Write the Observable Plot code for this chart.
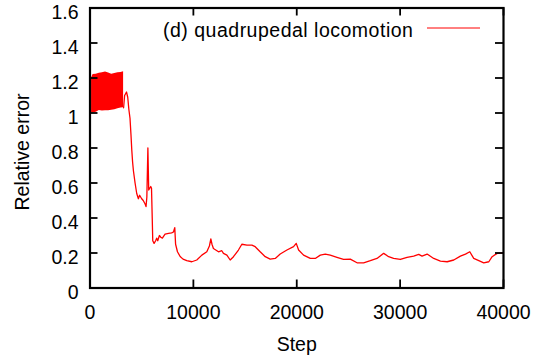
<!DOCTYPE html>
<html>
<head>
<meta charset="utf-8">
<script src="https://cdn.jsdelivr.net/npm/d3@7"></script>
<script src="https://cdn.jsdelivr.net/npm/@observablehq/plot@0.6"></script>
<style>
  html, body { margin: 0; padding: 0; background: #fff; }
  #wrap { position: relative; width: 543px; height: 361px; font-family: "Liberation Sans", Arial, Helvetica, sans-serif; }
  #legend { position: absolute; left: 163px; top: 17px; font-size: 19.5px; letter-spacing: 0.5px; line-height: 26px; white-space: nowrap; color: #000; display: flex; align-items: center; }
  #legend svg { margin-left: 14px; }
  #ytitle { position: absolute; left: 22px; top: 152px; font-size: 19.5px; line-height: 24px; white-space: nowrap; color: #000; transform: translate(-50%, -50%) rotate(-90deg); }
</style>
</head>
<body>
<div id="wrap">
  <div id="chart"></div>
  <div id="legend"><span>(d) quadrupedal locomotion</span><svg width="53" height="10"><line x1="0" y1="3" x2="53" y2="3" stroke="#ff0000" stroke-width="1"/></svg></div>
  <div id="ytitle">Relative error</div>
</div>
<script>
// Oscillating band at the start (envelope)
const bandStep = [150, 300, 600, 900, 1200, 1500, 1800, 2100, 2400, 2700, 3000, 3250];
const bandLow  = [1.00, 1.00, 1.005, 1.015, 1.012, 1.013, 1.013, 1.016, 1.018, 1.025, 1.028, 1.030];
const bandHigh = [1.20, 1.22, 1.222, 1.227, 1.230, 1.235, 1.228, 1.222, 1.226, 1.230, 1.232, 1.236];

// Relative error curve after the band
const steps = [3250, 3350, 3530, 3650, 3760, 3870, 3960, 4040, 4120, 4200, 4360, 4520, 4680, 4800, 4900, 5000, 5150, 5330, 5420, 5500, 5600, 5680, 5780, 5875, 5950, 6020, 6070, 6200, 6350, 6450, 6550, 6715, 6850, 7000, 7260, 7600, 7900, 8070, 8200, 8280, 8460, 8720, 9000, 9360, 9850, 10330, 10820, 11300, 11550, 11690, 11800, 11940, 12430, 12750, 12910, 13240, 13560, 13880, 14360, 14690, 15180, 15660, 15980, 16460, 16950, 17430, 17920, 18400, 19050, 19690, 19950, 20180, 20660, 21310, 21790, 22280, 22760, 23240, 23890, 24530, 25180, 25830, 26470, 27120, 27760, 28410, 28890, 29370, 30020, 30670, 31310, 31800, 32120, 32610, 33250, 33900, 34550, 35190, 35830, 36320, 36740, 37120, 37610, 38090, 38580, 38900, 39390, 40000];
const errors = [1.03, 1.10, 1.12, 1.09, 1.02, 0.97, 0.88, 0.79, 0.72, 0.67, 0.60, 0.54, 0.51, 0.53, 0.52, 0.51, 0.50, 0.48, 0.465, 0.52, 0.80, 0.56, 0.57, 0.58, 0.57, 0.40, 0.27, 0.255, 0.27, 0.285, 0.27, 0.30, 0.29, 0.285, 0.308, 0.312, 0.315, 0.32, 0.345, 0.25, 0.207, 0.18, 0.165, 0.156, 0.150, 0.160, 0.188, 0.207, 0.24, 0.28, 0.25, 0.226, 0.207, 0.213, 0.198, 0.188, 0.160, 0.179, 0.217, 0.25, 0.245, 0.245, 0.236, 0.207, 0.179, 0.165, 0.169, 0.194, 0.217, 0.236, 0.255, 0.217, 0.188, 0.169, 0.169, 0.188, 0.194, 0.188, 0.175, 0.163, 0.165, 0.144, 0.144, 0.156, 0.169, 0.198, 0.179, 0.169, 0.163, 0.175, 0.182, 0.192, 0.182, 0.194, 0.169, 0.154, 0.150, 0.160, 0.182, 0.194, 0.207, 0.169, 0.156, 0.144, 0.150, 0.179, 0.198, 0.201];

const xTicks = [0, 10000, 20000, 30000, 40000];
const yTicks = [0, 0.2, 0.4, 0.6, 0.8, 1, 1.2, 1.4, 1.6];

const band = bandStep.map((s, i) => ({step: s, lo: bandLow[i], hi: bandHigh[i]}));
const curve = steps.map((s, i) => ({step: s, err: errors[i]}));

const W = 543, H = 361;
const mL = 89.5, mR = 40, mT = 7.5, mB = 73.5;
const pW = W - mL - mR, pH = H - mT - mB;
const tick = 8;
const fs = 19.5;

const chart = Plot.plot({
  width: W, height: H,
  marginLeft: mL, marginRight: mR, marginTop: mT, marginBottom: mB,
  style: {fontFamily: '"Liberation Sans", Arial, Helvetica, sans-serif', fontSize: fs + "px", background: "#fff", color: "#000", overflow: "visible"},
  x: {domain: [0, 40000], axis: null},
  y: {domain: [0, 1.6], axis: null},
  marks: [
    Plot.areaY(band, {x: "step", y1: "lo", y2: "hi", fill: "#ff0000", curve: "linear"}),
    Plot.line(curve, {x: "step", y: "err", stroke: "#ff0000", strokeWidth: 1.3}),
    // inward ticks
    Plot.tickX(xTicks, {x: d => d, insetTop: pH - tick, stroke: "#000", strokeWidth: 1.8}),
    Plot.tickX(xTicks, {x: d => d, insetBottom: pH - tick, stroke: "#000", strokeWidth: 1.8}),
    Plot.tickY(yTicks, {y: d => d, insetRight: pW - tick, stroke: "#000", strokeWidth: 1.8}),
    Plot.tickY(yTicks, {y: d => d, insetLeft: pW - tick, stroke: "#000", strokeWidth: 1.8}),
    Plot.frame({stroke: "#000", strokeWidth: 2.2}),
    // tick labels
    Plot.text(xTicks, {x: d => d, frameAnchor: "bottom", dy: 31, text: d => String(d), fontSize: fs, fill: "#000"}),
    Plot.text(yTicks, {y: d => d, frameAnchor: "left", dx: -11.5, dy: 4.5, textAnchor: "end", text: d => String(d), fontSize: fs, fill: "#000"}),
    // x axis title
    Plot.text(["Step"], {frameAnchor: "bottom", dy: 63, text: d => d, fontSize: fs, fill: "#000"})
  ]
});
document.getElementById("chart").appendChild(chart);
</script>
</body>
</html>
